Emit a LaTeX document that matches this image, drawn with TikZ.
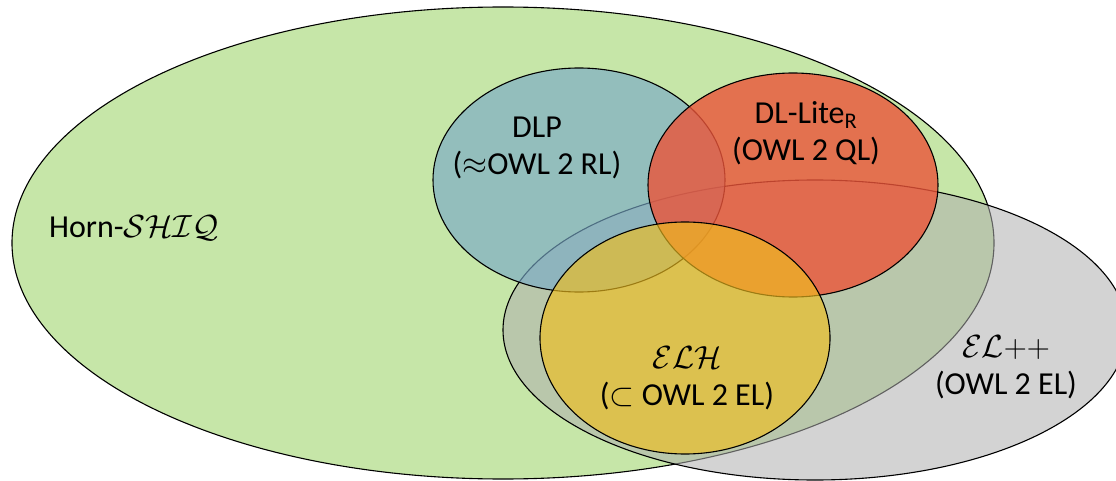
\RequirePackage{fix-cm}
\documentclass[tikz,border=0pt]{standalone}
\usepackage[no-math]{fontspec}
\setmainfont{Carlito}
\definecolor{hornG}{RGB}{198,230,168}
\definecolor{elG}{RGB}{175,175,175}
\definecolor{dlpB}{RGB}{120,170,200}
\definecolor{liteR}{RGB}{235,84,57}
\definecolor{elhY}{RGB}{240,190,30}
\tikzset{
  setline/.style={draw=black, line width=1.1pt},
  lbl/.style={font=\fontsize{32}{37}\selectfont, align=center, inner sep=0pt, text=black},
}
\begin{document}
\begin{tikzpicture}[x=1pt,y=-1pt]
\useasboundingbox (0,0) rectangle (1116,481);
% Horn-SHIQ
\draw[setline, fill=hornG] (503,243) ellipse [x radius=491, y radius=236];
% EL++
\draw[setline, fill=elG, fill opacity=0.55] (815,330) ellipse [x radius=312, y radius=150];
% DLP
\draw[setline, fill=dlpB, fill opacity=0.65] (579,180) ellipse [x radius=146, y radius=112];
% DL-Lite
\draw[setline, fill=liteR, fill opacity=0.8] (793,185) ellipse [x radius=145, y radius=112];
% ELH
\draw[setline, fill=elhY, fill opacity=0.65] (685,338) ellipse [x radius=145, y radius=116];
% labels
\node[lbl, anchor=base] (horn) at (134,237) {Horn-$\mathcal{SHIQ}$};
\node[lbl] (dlp) at (537,148) {DLP\\($\approx$OWL 2 RL)};
\node[lbl] (lite) at (806,133) {DL-Lite\textsubscript{R}\\(OWL 2 QL)};
\node[lbl] (elh) at (687,378) {$\mathcal{ELH}$\\($\subset$ OWL 2 EL)};
\node[lbl] (elpp) at (1006,367) {$\mathcal{EL}{+}{+}$\\(OWL 2 EL)};
\end{tikzpicture}
\end{document}
